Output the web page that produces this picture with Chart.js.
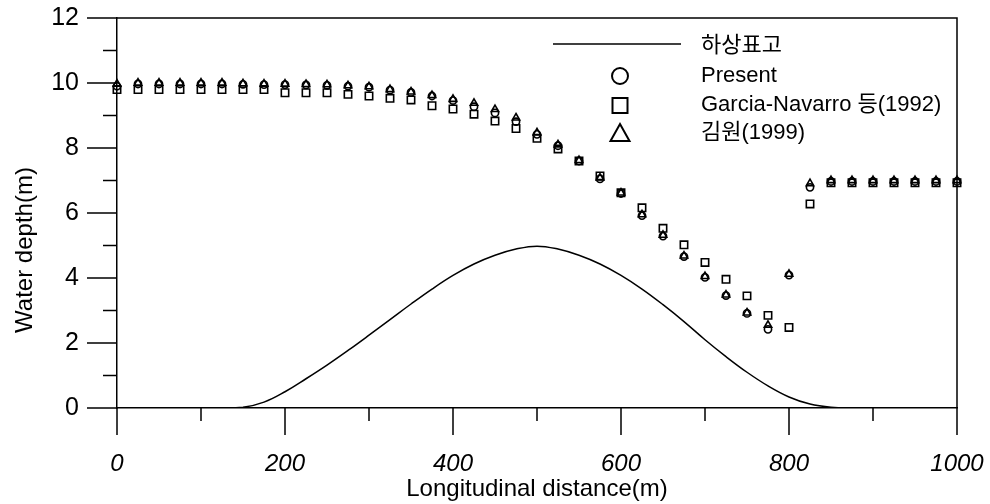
<!DOCTYPE html>
<html><head><meta charset="utf-8">
<script src="https://cdn.jsdelivr.net/npm/chart.js@4"></script>
<style>html,body{margin:0;padding:0;background:#fff}</style>
</head><body>
<canvas id="c" width="990" height="504"></canvas>
<script>
const distances = [0,25,50,75,100,125,150,175,200,225,250,275,300,325,350,375,400,425,450,475,500,525,550,575,600,625,650,675,700,725,750,775,800,825,850,875,900,925,950,975,1000];
const bedElevation = [0,0,0,0,0,0,0.02,0.18,0.5,0.9,1.32,1.77,2.24,2.72,3.2,3.66,4.08,4.43,4.7,4.89,4.98,4.89,4.7,4.43,4.08,3.66,3.18,2.66,2.1,1.58,1.1,0.68,0.34,0.12,0.02,0,0,0,0,0,0];
const present = [9.9,9.97,9.97,9.97,9.97,9.97,9.96,9.95,9.95,9.94,9.93,9.9,9.87,9.78,9.71,9.6,9.46,9.27,9.08,8.81,8.42,8.07,7.6,7.05,6.6,5.92,5.29,4.66,4.02,3.46,2.91,2.42,4.09,6.79,6.97,6.97,6.97,6.97,6.97,6.97,6.97];
const garciaNavarro = [9.8,9.8,9.8,9.8,9.8,9.8,9.8,9.8,9.7,9.7,9.7,9.65,9.6,9.53,9.48,9.3,9.2,9.04,8.83,8.6,8.3,7.97,7.6,7.14,6.62,6.16,5.53,5.02,4.48,3.96,3.45,2.85,2.48,6.28,6.93,6.93,6.93,6.93,6.93,6.93,6.93];
const kimWon = [9.97,10.0,10.0,10.0,10.0,10.0,9.98,9.97,9.97,9.96,9.95,9.92,9.89,9.8,9.73,9.62,9.5,9.38,9.19,8.93,8.47,8.1,7.62,7.08,6.62,5.95,5.32,4.68,4.05,3.48,2.93,2.55,4.12,6.91,7.0,7.0,7.0,7.0,7.0,7.0,7.0];
const xTickValues = [0,200,400,600,800,1000];
const yTickValues = [0,2,4,6,8,10,12];
const xMinorTicks = [100,300,500,700,900];
const yMinorTicks = [1,3,5,7,9,11];
const seriesNames = ['하상표고','Present','Garcia-Navarro 등(1992)','김원(1999)'];
const xTitle = 'Longitudinal distance(m)';
const yTitle = 'Water depth(m)';

const FONT = "'Liberation Sans', Arial, 'Noto Sans CJK KR', sans-serif";
const toXY = arr => distances.map((d,i) => ({x:d, y:arr[i]}));
const zeroPad = s => { s.paddingLeft = 0; s.paddingRight = 0; s.paddingTop = 0; s.paddingBottom = 0; };

const decor = {
  id:'decor',
  afterDraw(chart){
    const ctx = chart.ctx, xs = chart.scales.x, ys = chart.scales.y, a = chart.chartArea;
    ctx.save();
    ctx.strokeStyle = '#000'; ctx.lineWidth = 1.5;
    ctx.beginPath();
    ctx.moveTo(a.left, a.top); ctx.lineTo(a.right, a.top); ctx.lineTo(a.right, a.bottom);
    yTickValues.forEach(v => { const p = ys.getPixelForValue(v); ctx.moveTo(a.left-30, p); ctx.lineTo(a.left, p); });
    yMinorTicks.forEach(v => { const p = ys.getPixelForValue(v); ctx.moveTo(a.left-14, p); ctx.lineTo(a.left, p); });
    xTickValues.forEach(v => { const p = xs.getPixelForValue(v); ctx.moveTo(p, a.bottom); ctx.lineTo(p, a.bottom+27); });
    xMinorTicks.forEach(v => { const p = xs.getPixelForValue(v); ctx.moveTo(p, a.bottom); ctx.lineTo(p, a.bottom+13); });
    ctx.stroke();
    ctx.fillStyle = '#000';
    ctx.font = '24px ' + FONT;
    ctx.textAlign = 'center'; ctx.textBaseline = 'middle';
    ctx.translate(25, 250); ctx.rotate(-Math.PI/2);
    ctx.fillText(yTitle, 0, 0);
    ctx.setTransform(1,0,0,1,0,0);
    ctx.lineWidth = 1.5;
    ctx.beginPath(); ctx.moveTo(553, 44); ctx.lineTo(681, 44); ctx.stroke();
    const mx = 620;
    ctx.lineWidth = 2;
    ctx.beginPath(); ctx.arc(mx, 76, 8, 0, Math.PI*2); ctx.stroke();
    ctx.strokeRect(mx-7.5, 98, 15, 15);
    ctx.beginPath(); ctx.moveTo(mx, 124); ctx.lineTo(mx+9.5, 141); ctx.lineTo(mx-9.5, 141); ctx.closePath(); ctx.stroke();
    ctx.font = '22px ' + FONT;
    ctx.textAlign = 'left'; ctx.textBaseline = 'middle';
    ctx.fillText(seriesNames[0], 701, 46);
    ctx.fillText(seriesNames[1], 701, 76);
    ctx.fillText(seriesNames[2], 701, 105);
    ctx.fillText(seriesNames[3], 701, 133);
    ctx.restore();
  }
};

new Chart(document.getElementById('c'), {
  type:'scatter',
  data:{ datasets:[
    {label:seriesNames[3], data:toXY(kimWon), pointStyle:'triangle', pointRadius:4.3, borderColor:'#000', backgroundColor:'rgba(0,0,0,0)', borderWidth:1.6, showLine:false, clip:false},
    {label:seriesNames[1], data:toXY(present), pointStyle:'circle', pointRadius:3.6, borderColor:'#000', backgroundColor:'rgba(0,0,0,0)', borderWidth:1.6, showLine:false, clip:false},
    {label:seriesNames[2], data:toXY(garciaNavarro), pointStyle:'rect', pointRadius:5.2, borderColor:'#000', backgroundColor:'rgba(0,0,0,0)', borderWidth:1.6, showLine:false, clip:false},
    {label:seriesNames[0], data:toXY(bedElevation), showLine:true, pointRadius:0, borderColor:'#000', borderWidth:1.5, tension:0.4, fill:false}
  ]},
  options:{
    responsive:false, animation:false, devicePixelRatio:1,
    layout:{padding:{left:0,right:33,top:18,bottom:0}},
    plugins:{legend:{display:false}, tooltip:{enabled:false}},
    scales:{
      x:{type:'linear', min:0, max:1000,
        afterBuildTicks: s => { s.ticks = xTickValues.map(v => ({value:v})); },
        afterFit: s => { s.height = 96; zeroPad(s); },
        ticks:{font:{family:FONT, size:24, style:'italic'}, color:'#000', padding:42, maxRotation:0,
          callback: v => String(v)},
        grid:{drawOnChartArea:false, drawTicks:false},
        border:{display:true, color:'#000', width:1.5},
        title:{display:true, text:xTitle, font:{family:FONT, size:24}, color:'#000', padding:{top:0,bottom:0}}
      },
      y:{type:'linear', min:0, max:12,
        afterBuildTicks: s => { s.ticks = yTickValues.map(v => ({value:v})); },
        afterFit: s => { s.width = 117; zeroPad(s); },
        ticks:{font:{family:FONT, size:25}, color:'#000', padding:38, callback: v => String(v)},
        grid:{drawOnChartArea:false, drawTicks:false},
        border:{display:true, color:'#000', width:1.5}
      }
    }
  },
  plugins:[decor]
});
</script>
</body></html>
